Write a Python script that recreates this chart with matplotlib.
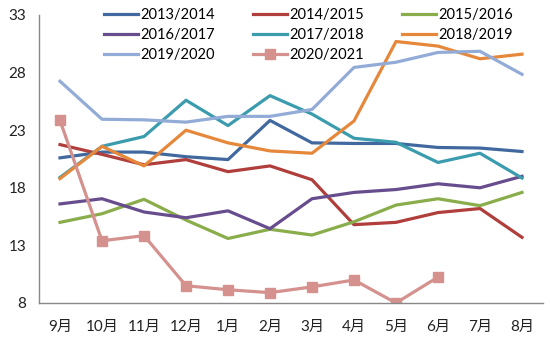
import matplotlib
matplotlib.use("Agg")
import matplotlib.pyplot as plt

plt.rcParams['font.family'] = ['Lato', 'Noto Sans CJK SC', 'DejaVu Sans']

months = ["9月", "10月", "11月", "12月", "1月", "2月", "3月", "4月", "5月", "6月", "7月", "8月"]

s2013 = [20.6, 21.1, 21.1, 20.7, 20.45, 23.85, 21.9, 21.85, 21.85, 21.5, 21.45, 21.15]
s2014 = [21.75, 20.9, 20.0, 20.45, 19.4, 19.9, 18.7, 14.8, 15.0, 15.85, 16.2, 13.7]
s2015 = [15.0, 15.75, 17.0, 15.2, 13.6, 14.4, 13.9, 15.05, 16.5, 17.05, 16.45, 17.6]
s2016 = [16.6, 17.05, 15.9, 15.4, 16.0, 14.45, 17.05, 17.6, 17.85, 18.35, 18.0, 19.0]
s2017 = [18.9, 21.6, 22.45, 25.6, 23.4, 26.0, 24.4, 22.3, 21.95, 20.2, 21.0, 18.85]
s2018 = [18.8, 21.6, 19.9, 23.0, 21.9, 21.2, 21.0, 23.8, 30.7, 30.3, 29.2, 29.6]
s2019 = [27.25, 23.95, 23.9, 23.7, 24.2, 24.2, 24.8, 28.45, 28.9, 29.75, 29.85, 27.85]
s2020 = [23.85, 13.4, 13.85, 9.5, 9.15, 8.9, 9.4, 10.0, 8.0, 10.25]

series = [
    ("2013/2014", s2013, "#41699f"),
    ("2014/2015", s2014, "#b03f3c"),
    ("2015/2016", s2015, "#8aad4c"),
    ("2016/2017", s2016, "#684d8e"),
    ("2017/2018", s2017, "#3b9cae"),
    ("2018/2019", s2018, "#e6883b"),
    ("2019/2020", s2019, "#93acd7"),
    ("2020/2021", s2020, "#d4918d"),
]

fig = plt.figure(figsize=(5.5, 3.41), dpi=100)
ax = fig.add_axes([39 / 550, 1 - 303 / 341, 504 / 550, 288 / 341])

x_all = list(range(len(months)))
handles = []
for name, vals, color in series:
    xs = x_all[:len(vals)]
    if name == "2020/2021":
        h, = ax.plot(xs, vals, color=color, lw=2.3, marker="s", markersize=6.5,
                     label=name, solid_joinstyle="miter")
    else:
        h, = ax.plot(xs, vals, color=color, lw=2.3, label=name)
    handles.append(h)

ax.set_xlim(-0.5, len(months) - 0.5)
ax.set_ylim(8, 33)
ax.set_yticks([8, 13, 18, 23, 28, 33])
ax.set_xticks(x_all)
ax.set_xticklabels(months)
ax.tick_params(axis="both", length=0, labelsize=11, colors="#222222")
ax.tick_params(axis="x", pad=12)
ax.tick_params(axis="y", pad=9)
for side in ("top", "right"):
    ax.spines[side].set_visible(False)
for side in ("left", "bottom"):
    ax.spines[side].set_color("#888888")
    ax.spines[side].set_linewidth(1.0)

order = [0, 3, 6, 1, 4, 7, 2, 5]
ax.legend([handles[i] for i in order], [series[i][0] for i in order],
          ncol=3, loc="upper left", bbox_to_anchor=(104 / 550, 1 - 8 / 341),
          bbox_transform=fig.transFigure, frameon=False, fontsize=10.5,
          handlelength=2.3, handletextpad=0.2, columnspacing=2.6,
          labelspacing=0.42, borderaxespad=0, borderpad=0)

fig.savefig("out.png", dpi=100)
